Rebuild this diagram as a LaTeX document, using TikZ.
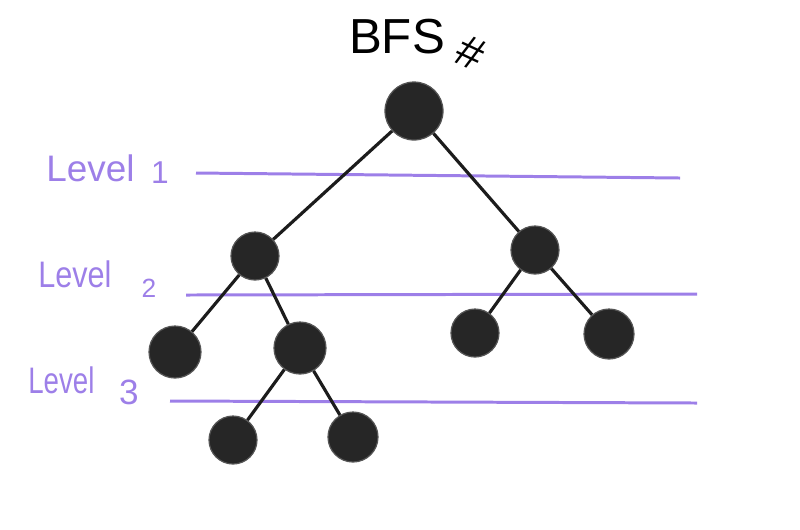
\documentclass[tikz,border=0pt]{standalone}
\usepackage{fontspec}
\setmainfont{Liberation Sans}
\usepackage{tikz}
\usetikzlibrary{positioning}
\definecolor{lvlpurple}{RGB}{157,127,232}
\definecolor{vertgray}{RGB}{38,38,38}
\tikzstyle{vertex} = [circle, fill=vertgray, draw={rgb,255: red, 85; green, 85; blue, 85}, line width=0.7pt, inner sep=0pt]
\tikzstyle{edge} = [draw, color={rgb,255: red, 28; green, 28; blue, 28}, line width=1.8pt]
\tikzstyle{levelline} = [draw, color=lvlpurple, line width=1.7pt]
\tikzstyle{levellabel} = [anchor=base west, text=lvlpurple, inner sep=0pt, font=\fontsize{21}{24}\selectfont]

\begin{document}
\begin{tikzpicture}[x=0.02cm, y=-0.02cm]
\useasboundingbox (0,0) rectangle (800,529);

\node [inner sep=0pt, font=\fontsize{28}{32}\selectfont] at (397,37) (title) {BFS};
\node [inner sep=0pt, rotate=-25, font=\fontsize{26}{30}\selectfont] at (471,53) (hash) {\#};

\path [levelline] (196,173) -- (680,178);
\path [levelline] (186,295) -- (697,294);
\path [levelline] (170,401) -- (697,403);

\node [levellabel] at (46,181) (label_1) {Level};
\node [levellabel, font=\fontsize{18}{20}\selectfont, anchor=base] at (160,183) (digit_1) {1};
\node [levellabel, xscale=0.83] at (38,287) (label_2) {Level};
\node [levellabel, font=\fontsize{15}{17}\selectfont, anchor=base] at (149,297) (digit_2) {2};
\node [levellabel, xscale=0.75] at (28,393) (label_3) {Level};
\node [levellabel, font=\fontsize{20}{23}\selectfont, anchor=base] at (129,404) (digit_3) {3};

\node [vertex, minimum size=1.16cm] at (414,111) (root) {};

\node [vertex, minimum size=0.96cm] at (255,256) (vert1_1) {};
\node [vertex, minimum size=0.96cm] at (535,250) (vert1_2) {};

\node [vertex, minimum size=1.04cm] at (175,352) (vert2_1) {};
\node [vertex, minimum size=1.04cm] at (300,348) (vert2_2) {};
\node [vertex, minimum size=0.96cm] at (475,333) (vert2_3) {};
\node [vertex, minimum size=1.0cm] at (609,334) (vert2_4) {};

\node [vertex, minimum size=0.96cm] at (233,440) (vert3_1) {};
\node [vertex, minimum size=1.0cm] at (353,437) (vert3_2) {};

\path [edge] (root) -- (vert1_1);
\path [edge] (root) -- (vert1_2);

\path [edge] (vert1_1) -- (vert2_1);
\path [edge] (vert1_1) -- (vert2_2);
\path [edge] (vert1_2) -- (vert2_3);
\path [edge] (vert1_2) -- (vert2_4);

\path [edge] (vert2_2) -- (vert3_1);
\path [edge] (vert2_2) -- (vert3_2);

\end{tikzpicture}
\end{document}
